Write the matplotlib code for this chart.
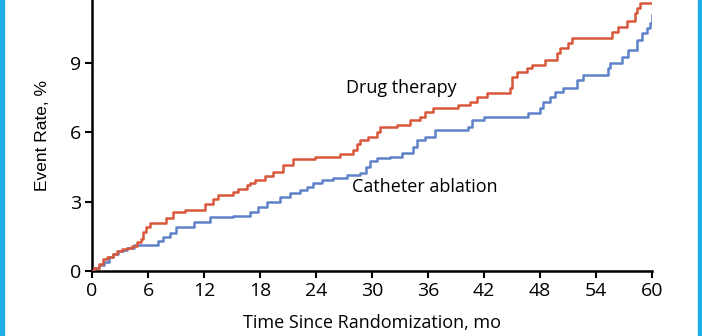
import matplotlib
matplotlib.use("Agg")
import matplotlib.pyplot as plt
from matplotlib.patches import Rectangle

# Kaplan-Meier style cumulative event rates (months, %)
drug_t = [0, 0.2, 0.8, 1.2, 1.6, 2.2, 2.7, 3.2, 3.8, 4.3, 4.8, 5.2, 5.5, 5.8, 6.2,
          7.9, 8.7, 10.0, 12.1, 13.0, 13.5, 15.1, 15.6, 16.6, 16.9, 17.5, 18.5,
          19.4, 20.5, 21.5, 23.9, 26.6, 28.0, 28.4, 28.7, 29.6, 30.5, 30.9,
          32.7, 34.1, 35.1, 35.7, 36.5, 39.2, 40.5, 41.2, 42.3, 44.8, 45.0,
          45.5, 46.6, 47.1, 48.5, 49.8, 50.1, 51.0, 51.4, 55.7, 56.4, 57.3,
          58.2, 58.4, 58.7, 60.0]
drug_y = [0, 0.15, 0.3, 0.5, 0.6, 0.75, 0.85, 0.95, 1.0, 1.1, 1.25, 1.4, 1.7, 1.9, 2.08,
          2.3, 2.55, 2.64, 2.9, 3.1, 3.3, 3.42, 3.54, 3.72, 3.8, 3.94, 4.1,
          4.29, 4.59, 4.85, 4.94, 5.06, 5.24, 5.5, 5.67, 5.8, 6.0, 6.23,
          6.3, 6.54, 6.67, 6.88, 7.05, 7.19, 7.32, 7.53, 7.7, 7.92, 8.4,
          8.6, 8.77, 8.9, 9.13, 9.43, 9.65, 9.87, 10.1, 10.35, 10.56, 10.82,
          11.17, 11.38, 11.6, 11.6]

abl_t = [0, 0.2, 0.7, 1.3, 1.8, 2.3, 2.8, 3.3, 3.8, 4.5, 7.1, 7.6, 8.4, 9.0,
         10.9, 12.6, 15.1, 16.9, 17.8, 18.7, 20.1, 21.2, 22.3, 23.0, 23.7,
         24.6, 25.8, 27.3, 28.7, 29.4, 29.8, 30.5, 31.9, 33.2, 34.4, 34.8,
         35.7, 36.8, 40.3, 40.7, 42.0, 46.7, 48.0, 48.3, 49.1, 49.6, 50.5,
         52.0, 52.6, 55.3, 55.5, 56.8, 57.4, 58.4, 58.9, 59.5, 59.8, 60.0]
abl_y = [0, 0.15, 0.25, 0.4, 0.6, 0.75, 0.85, 0.9, 1.0, 1.12, 1.3, 1.47, 1.64, 1.9,
         2.12, 2.33, 2.38, 2.55, 2.77, 2.99, 3.2, 3.37, 3.5, 3.64, 3.8,
         3.94, 4.03, 4.16, 4.24, 4.5, 4.76, 4.9, 4.94, 5.1, 5.37, 5.67,
         5.8, 6.1, 6.23, 6.54, 6.67, 6.84, 7.05, 7.32, 7.53, 7.75, 7.92,
         8.27, 8.48, 8.8, 9.0, 9.26, 9.57, 10.0, 10.3, 10.5, 10.74, 11.08]

x_ticks = [0, 6, 12, 18, 24, 30, 36, 42, 48, 54, 60]
y_ticks = [0, 3, 6, 9]

red = "#d9583c"
blue = "#5f82c8"

plt.rcParams['font.family'] = ['Open Sans', 'DejaVu Sans']

fig = plt.figure(figsize=(7.02, 3.36), dpi=100)
ax = fig.add_axes([92/702, 65/336, 560/702, 271/336])

ax.step(abl_t, abl_y, where='post', color=blue, lw=1.8, zorder=3)
ax.step(drug_t, drug_y, where='post', color=red, lw=1.8, zorder=4)

ax.text(27.2, 7.92, "Drug therapy", fontsize=13, va='center', ha='left')
ax.text(27.9, 3.64, "Catheter ablation", fontsize=13, va='center', ha='left')

ax.set_xlim(0, 60)
ax.set_ylim(0, 11.73)
ax.set_xticks(x_ticks)
ax.set_yticks(y_ticks)
ax.tick_params(direction='out', length=5, width=1.5, labelsize=14, pad=3)
for s in ['top', 'right']:
    ax.spines[s].set_visible(False)
for s in ['left', 'bottom']:
    ax.spines[s].set_linewidth(1.8)

ax.set_xlabel("Time Since Randomization, mo", fontsize=13, labelpad=10)
ax.set_ylabel("Event Rate, %", fontsize=12.5, labelpad=14,
              family=['Liberation Sans', 'DejaVu Sans'])

# cyan frame strips at the image edges
fig.patches.append(Rectangle((0, 0), 4/702, 1, transform=fig.transFigure,
                             color="#1eaee6", zorder=10))
fig.patches.append(Rectangle((698/702, 0), 4/702, 1, transform=fig.transFigure,
                             color="#1eaee6", zorder=10))

fig.savefig("out.png", dpi=100)
